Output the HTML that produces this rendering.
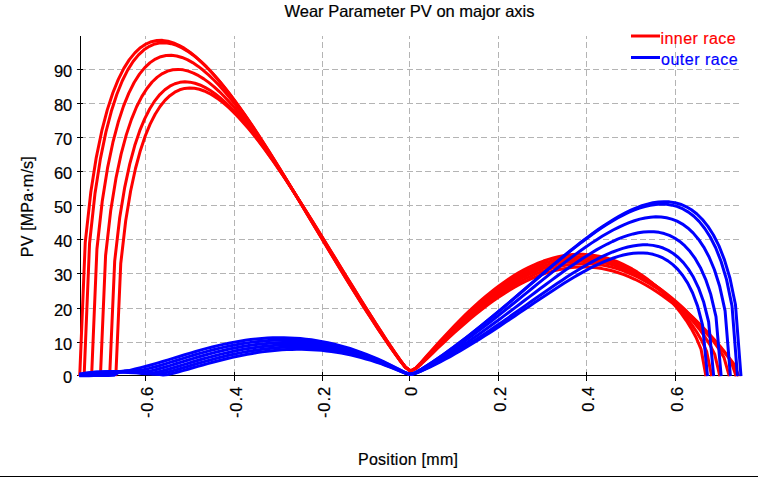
<!DOCTYPE html>
<html><head><meta charset="utf-8"><style>
html,body{margin:0;padding:0;background:#fff;}
body{width:758px;height:477px;overflow:hidden;position:relative;}
svg{position:absolute;left:0;top:0;display:block;}
text{font-family:"Liberation Sans",sans-serif;font-size:16px;fill:#000;stroke:#000;stroke-width:0.2px;}
</style></head><body>
<svg width="758" height="477" viewBox="0 0 758 477">
<rect x="0" y="0" width="758" height="477" fill="#fff"/>
<g stroke="#b4b4b4" stroke-width="1" stroke-dasharray="6 3.333" fill="none" shape-rendering="crispEdges">
<line x1="145.5" y1="375" x2="145.5" y2="36"/>
<line x1="234.5" y1="375" x2="234.5" y2="36"/>
<line x1="322.5" y1="375" x2="322.5" y2="36"/>
<line x1="409.5" y1="375" x2="409.5" y2="36"/>
<line x1="498.5" y1="375" x2="498.5" y2="36"/>
<line x1="586.5" y1="375" x2="586.5" y2="36"/>
<line x1="675.5" y1="375" x2="675.5" y2="36"/>
<line x1="80" y1="342.5" x2="742" y2="342.5"/>
<line x1="80" y1="308.5" x2="742" y2="308.5"/>
<line x1="80" y1="273.5" x2="742" y2="273.5"/>
<line x1="80" y1="239.5" x2="742" y2="239.5"/>
<line x1="80" y1="205.5" x2="742" y2="205.5"/>
<line x1="80" y1="171.5" x2="742" y2="171.5"/>
<line x1="80" y1="137.5" x2="742" y2="137.5"/>
<line x1="80" y1="103.5" x2="742" y2="103.5"/>
<line x1="80" y1="69.5" x2="742" y2="69.5"/>
</g>
<g stroke="#000" stroke-width="1" shape-rendering="crispEdges">
<line x1="80.5" y1="36" x2="80.5" y2="376"/>
<line x1="80" y1="375.5" x2="742" y2="375.5"/>
<line x1="145.5" y1="372" x2="145.5" y2="381"/>
<line x1="234.5" y1="372" x2="234.5" y2="381"/>
<line x1="322.5" y1="372" x2="322.5" y2="381"/>
<line x1="409.5" y1="372" x2="409.5" y2="381"/>
<line x1="498.5" y1="372" x2="498.5" y2="381"/>
<line x1="586.5" y1="372" x2="586.5" y2="381"/>
<line x1="675.5" y1="372" x2="675.5" y2="381"/>
<line x1="77" y1="375.5" x2="83" y2="375.5"/>
<line x1="77" y1="342.5" x2="83" y2="342.5"/>
<line x1="77" y1="308.5" x2="83" y2="308.5"/>
<line x1="77" y1="273.5" x2="83" y2="273.5"/>
<line x1="77" y1="239.5" x2="83" y2="239.5"/>
<line x1="77" y1="205.5" x2="83" y2="205.5"/>
<line x1="77" y1="171.5" x2="83" y2="171.5"/>
<line x1="77" y1="137.5" x2="83" y2="137.5"/>
<line x1="77" y1="103.5" x2="83" y2="103.5"/>
<line x1="77" y1="69.5" x2="83" y2="69.5"/>
</g>
<g fill="none" stroke="#ff0000" stroke-width="3" stroke-linejoin="round">
<path d="M79.72,376.14L85.23,242.63L90.75,192.55L96.26,157.58L101.77,130.93L107.29,109.88L112.80,92.98L118.32,79.34L123.83,68.37L129.34,59.65L134.86,52.84L140.37,47.71L145.89,44.05L151.40,41.69L156.92,40.50L162.43,40.36L167.94,41.16L173.46,42.82L178.97,45.25L184.49,48.40L190.00,52.20L195.52,56.58L201.03,61.51L206.54,66.93L212.06,72.80L217.57,79.08L223.09,85.73L228.60,92.73L234.12,100.03L239.63,107.62L245.14,115.45L250.66,123.51L256.17,131.78L261.69,140.22L267.20,148.81L272.71,157.55L278.23,166.39L283.74,175.34L289.26,184.37L294.77,193.46L300.29,202.59L305.80,211.76L311.31,220.95L316.83,230.13L322.34,239.31L327.86,248.47L333.37,257.59L338.89,266.66L344.40,275.67L349.91,284.61L355.43,293.48L360.94,302.25L366.46,310.92L371.97,319.47L377.48,327.90L383.00,336.19L388.51,344.32L394.03,352.26L399.54,359.92L405.06,366.97L410.57,371.03L416.04,368.51L421.51,363.77L426.98,358.58L432.45,353.30L437.92,348.03L443.39,342.83L448.86,337.71L454.33,332.69L459.80,327.78L465.27,323.00L470.74,318.36L476.21,313.87L481.68,309.53L487.15,305.36L492.62,301.37L498.09,297.55L503.56,293.93L509.03,290.50L514.50,287.29L519.97,284.28L525.44,281.49L530.91,278.93L536.38,276.61L541.85,274.52L547.32,272.68L552.79,271.08L558.26,269.74L563.73,268.66L569.20,267.84L574.67,267.29L580.15,267.00L585.62,266.99L591.09,267.25L596.56,267.79L602.03,268.60L607.50,269.69L612.97,271.06L618.44,272.71L623.91,274.63L629.38,276.82L634.85,279.28L640.32,282.01L645.79,285.00L651.26,288.25L656.73,291.75L662.20,295.49L667.67,299.46L673.14,303.67L678.61,308.09L684.08,312.71L689.55,317.53L695.02,322.54L700.49,327.71L705.96,333.05L711.43,338.55L716.90,344.22L722.37,350.09L727.84,356.27L733.31,363.16L738.78,376.14"/>
<path d="M84.12,376.14L89.56,243.23L95.00,193.41L100.44,158.64L105.89,132.17L111.33,111.27L116.77,94.51L122.21,81.01L127.65,70.16L133.09,61.55L138.53,54.86L143.97,49.83L149.41,46.26L154.85,43.99L160.29,42.88L165.73,42.81L171.18,43.68L176.62,45.40L182.06,47.90L187.50,51.10L192.94,54.94L198.38,59.36L203.82,64.32L209.26,69.77L214.70,75.66L220.14,81.96L225.58,88.63L231.02,95.63L236.46,102.93L241.91,110.51L247.35,118.33L252.79,126.37L258.23,134.61L263.67,143.02L269.11,151.59L274.55,160.28L279.99,169.08L285.43,177.98L290.87,186.94L296.31,195.97L301.75,205.04L307.19,214.13L312.64,223.24L318.08,232.34L323.52,241.43L328.96,250.49L334.40,259.51L339.84,268.47L345.28,277.37L350.72,286.20L356.16,294.94L361.60,303.58L367.04,312.12L372.48,320.54L377.93,328.83L383.37,336.97L388.81,344.95L394.25,352.73L399.69,360.23L405.13,367.10L410.57,371.03L416.00,368.39L421.42,363.49L426.85,358.15L432.27,352.73L437.70,347.33L443.13,342.00L448.55,336.76L453.98,331.63L459.40,326.62L464.83,321.74L470.26,316.99L475.68,312.40L481.11,307.97L486.54,303.71L491.96,299.62L497.39,295.72L502.81,292.01L508.24,288.50L513.67,285.19L519.09,282.10L524.52,279.22L529.94,276.57L535.37,274.16L540.80,271.98L546.22,270.04L551.65,268.35L557.07,266.91L562.50,265.72L567.93,264.80L573.35,264.14L578.78,263.75L584.21,263.62L589.63,263.77L595.06,264.19L600.48,264.89L605.91,265.86L611.34,267.10L616.76,268.63L622.19,270.43L627.61,272.50L633.04,274.84L638.47,277.45L643.89,280.33L649.32,283.47L654.74,286.87L660.17,290.52L665.60,294.42L671.02,298.56L676.45,302.93L681.88,307.54L687.30,312.36L692.73,317.40L698.15,322.66L703.58,328.13L709.01,333.82L714.43,339.77L719.86,346.04L725.28,352.80L730.71,360.57L736.14,376.14"/>
<path d="M91.61,376.14L96.93,248.99L102.24,201.25L107.56,167.90L112.88,142.45L118.19,122.33L123.51,106.15L128.82,93.08L134.14,82.55L139.46,74.16L144.77,67.59L150.09,62.62L155.40,59.04L160.72,56.71L166.04,55.48L171.35,55.26L176.67,55.94L181.98,57.44L187.30,59.68L192.62,62.61L197.93,66.15L203.25,70.26L208.56,74.88L213.88,79.98L219.20,85.52L224.51,91.45L229.83,97.74L235.14,104.36L240.46,111.28L245.77,118.47L251.09,125.90L256.41,133.56L261.72,141.41L267.04,149.44L272.35,157.62L277.67,165.94L282.99,174.38L288.30,182.91L293.62,191.53L298.93,200.21L304.25,208.94L309.57,217.71L314.88,226.50L320.20,235.30L325.51,244.10L330.83,252.88L336.15,261.63L341.46,270.34L346.78,279.01L352.09,287.61L357.41,296.14L362.73,304.60L368.04,312.96L373.36,321.21L378.67,329.36L383.99,337.37L389.31,345.24L394.62,352.92L399.94,360.33L405.25,367.14L410.57,371.03L415.88,368.34L421.19,363.36L426.50,357.95L431.82,352.46L437.13,347.01L442.44,341.62L447.75,336.33L453.06,331.15L458.37,326.09L463.69,321.16L469.00,316.37L474.31,311.73L479.62,307.24L484.93,302.93L490.24,298.78L495.56,294.82L500.87,291.05L506.18,287.47L511.49,284.09L516.80,280.92L522.11,277.96L527.42,275.22L532.74,272.71L538.05,270.43L543.36,268.38L548.67,266.57L553.98,265.01L559.29,263.69L564.61,262.63L569.92,261.82L575.23,261.27L580.54,260.99L585.85,260.96L591.16,261.21L596.47,261.72L601.79,262.50L607.10,263.56L612.41,264.88L617.72,266.48L623.03,268.34L628.34,270.48L633.66,272.89L638.97,275.57L644.28,278.51L649.59,281.72L654.90,285.19L660.21,288.92L665.53,292.91L670.84,297.16L676.15,301.66L681.46,306.42L686.77,311.44L692.08,316.72L697.39,322.28L702.71,328.15L708.02,334.39L713.33,341.10L718.64,348.52L723.95,357.37L729.26,376.14"/>
<path d="M100.42,376.14L105.59,255.52L110.76,210.15L115.93,178.39L121.10,154.11L126.27,134.87L131.44,119.35L136.61,106.77L141.78,96.60L146.94,88.45L152.11,82.03L157.28,77.12L162.45,73.53L167.62,71.13L172.79,69.78L177.96,69.38L183.13,69.84L188.30,71.09L193.47,73.05L198.64,75.66L203.81,78.86L208.97,82.61L214.14,86.86L219.31,91.56L224.48,96.69L229.65,102.20L234.82,108.07L239.99,114.26L245.16,120.74L250.33,127.49L255.50,134.49L260.67,141.70L265.83,149.12L271.00,156.71L276.17,164.47L281.34,172.36L286.51,180.38L291.68,188.50L296.85,196.71L302.02,205.01L307.19,213.36L312.36,221.76L317.53,230.19L322.69,238.65L327.86,247.12L333.03,255.58L338.20,264.04L343.37,272.46L348.54,280.86L353.71,289.21L358.88,297.51L364.05,305.74L369.22,313.90L374.39,321.97L379.56,329.95L384.72,337.82L389.89,345.55L395.06,353.13L400.23,360.45L405.40,367.18L410.57,371.03L415.72,368.32L420.88,363.33L426.03,357.90L431.19,352.41L436.34,346.95L441.50,341.55L446.65,336.26L451.81,331.07L456.96,325.99L462.11,321.05L467.27,316.25L472.42,311.59L477.58,307.09L482.73,302.75L487.89,298.58L493.04,294.58L498.20,290.77L503.35,287.14L508.50,283.71L513.66,280.47L518.81,277.44L523.97,274.62L529.12,272.02L534.28,269.64L539.43,267.48L544.59,265.56L549.74,263.86L554.89,262.41L560.05,261.20L565.20,260.23L570.36,259.52L575.51,259.05L580.67,258.84L585.82,258.89L590.98,259.20L596.13,259.77L601.28,260.60L606.44,261.70L611.59,263.06L616.75,264.69L621.90,266.59L627.06,268.76L632.21,271.20L637.37,273.91L642.52,276.89L647.67,280.15L652.83,283.67L657.98,287.47L663.14,291.55L668.29,295.92L673.45,300.57L678.60,305.53L683.76,310.80L688.91,316.43L694.06,322.45L699.22,328.95L704.37,336.08L709.53,344.16L714.68,354.10L719.84,376.14"/>
<path d="M109.67,376.14L114.69,261.06L119.70,217.71L124.72,187.33L129.73,164.07L134.75,145.60L139.76,130.68L144.78,118.56L149.79,108.73L154.81,100.82L159.82,94.56L164.84,89.74L169.85,86.18L174.87,83.76L179.88,82.34L184.90,81.83L189.91,82.15L194.93,83.22L199.94,84.97L204.96,87.34L209.97,90.29L214.99,93.76L220.00,97.72L225.02,102.12L230.03,106.93L235.05,112.11L240.06,117.63L245.08,123.47L250.09,129.60L255.11,135.99L260.12,142.63L265.14,149.48L270.15,156.53L275.17,163.76L280.18,171.15L285.20,178.68L290.21,186.34L295.23,194.11L300.24,201.98L305.26,209.93L310.27,217.94L315.29,226.02L320.30,234.13L325.32,242.27L330.33,250.44L335.35,258.61L340.36,266.77L345.38,274.93L350.39,283.06L355.41,291.16L360.42,299.21L365.44,307.22L370.45,315.16L375.47,323.03L380.48,330.81L385.50,338.50L390.51,346.07L395.53,353.49L400.54,360.67L405.56,367.27L410.57,371.03L415.59,368.30L420.61,363.27L425.62,357.82L430.64,352.31L435.66,346.82L440.68,341.41L445.70,336.09L450.71,330.88L455.73,325.79L460.75,320.83L465.77,316.01L470.78,311.33L475.80,306.80L480.82,302.43L485.84,298.23L490.86,294.19L495.87,290.34L500.89,286.66L505.91,283.18L510.93,279.88L515.95,276.79L520.96,273.90L525.98,271.22L531.00,268.75L536.02,266.50L541.03,264.48L546.05,262.68L551.07,261.11L556.09,259.77L561.11,258.67L566.12,257.82L571.14,257.21L576.16,256.84L581.18,256.73L586.20,256.87L591.21,257.26L596.23,257.92L601.25,258.83L606.27,260.01L611.28,261.45L616.30,263.15L621.32,265.13L626.34,267.38L631.36,269.90L636.37,272.70L641.39,275.78L646.41,279.15L651.43,282.80L656.45,286.75L661.46,291.01L666.48,295.58L671.50,300.50L676.52,305.78L681.53,311.46L686.55,317.62L691.57,324.35L696.59,331.85L701.61,340.49L706.62,351.35L711.64,376.14"/>
<path d="M115.84,376.14L120.75,263.47L125.67,221.03L130.58,191.28L135.49,168.50L140.40,150.41L145.31,135.80L150.23,123.93L155.14,114.29L160.05,106.54L164.96,100.41L169.88,95.68L174.79,92.19L179.70,89.81L184.61,88.41L189.52,87.91L194.44,88.21L199.35,89.25L204.26,90.96L209.17,93.28L214.08,96.16L219.00,99.55L223.91,103.42L228.82,107.72L233.73,112.42L238.65,117.49L243.56,122.90L248.47,128.61L253.38,134.61L258.29,140.86L263.21,147.36L268.12,154.06L273.03,160.96L277.94,168.04L282.85,175.28L287.77,182.65L292.68,190.15L297.59,197.76L302.50,205.46L307.42,213.25L312.33,221.10L317.24,229.00L322.15,236.95L327.06,244.93L331.98,252.92L336.89,260.93L341.80,268.93L346.71,276.92L351.62,284.88L356.54,292.82L361.45,300.71L366.36,308.56L371.27,316.34L376.19,324.05L381.10,331.68L386.01,339.22L390.92,346.64L395.83,353.91L400.75,360.94L405.66,367.39L410.57,371.03L415.49,368.24L420.42,363.14L425.34,357.62L430.26,352.05L435.19,346.50L440.11,341.04L445.03,335.67L449.96,330.41L454.88,325.27L459.80,320.26L464.72,315.38L469.65,310.66L474.57,306.08L479.49,301.66L484.42,297.41L489.34,293.32L494.26,289.41L499.19,285.68L504.11,282.13L509.03,278.78L513.96,275.62L518.88,272.66L523.80,269.91L528.73,267.37L533.65,265.04L538.57,262.93L543.49,261.04L548.42,259.38L553.34,257.94L558.26,256.74L563.19,255.78L568.11,255.06L573.03,254.58L577.96,254.35L582.88,254.36L587.80,254.63L592.73,255.16L597.65,255.94L602.57,256.99L607.50,258.29L612.42,259.87L617.34,261.71L622.27,263.83L627.19,266.23L632.11,268.91L637.03,271.88L641.96,275.14L646.88,278.70L651.80,282.57L656.73,286.78L661.65,291.32L666.57,296.23L671.50,301.55L676.42,307.31L681.34,313.61L686.27,320.55L691.19,328.37L696.11,337.49L701.04,349.11L705.96,376.14"/>
</g>
<g fill="none" stroke="#0000ff" stroke-width="3" stroke-linejoin="round">
<path d="M79.28,373.96L80.16,373.96L85.66,373.07L91.17,372.48L96.68,372.12L102.18,371.95L107.69,371.90L113.20,371.86L118.71,371.71L124.21,371.25L129.72,370.37L135.23,369.04L140.73,367.61L146.24,366.23L151.75,364.75L157.25,363.18L162.76,361.56L168.27,359.89L173.77,358.19L179.28,356.48L184.79,354.78L190.29,353.11L195.80,351.48L201.31,349.90L206.82,348.39L212.32,346.96L217.83,345.61L223.34,344.36L228.84,343.20L234.35,342.14L239.86,341.18L245.36,340.34L250.87,339.61L256.38,338.99L261.88,338.49L267.39,338.12L272.90,337.87L278.40,337.75L283.91,337.76L289.42,337.90L294.93,338.17L300.43,338.59L305.94,339.13L311.45,339.82L316.95,340.64L322.46,341.61L327.97,342.71L333.47,343.96L338.98,345.35L344.49,346.88L349.99,348.55L355.50,350.36L361.01,352.31L366.51,354.40L372.02,356.62L377.53,358.99L383.04,361.48L388.54,364.11L394.05,366.85L399.56,369.69L405.06,372.54L410.57,374.44L416.08,372.38L421.58,369.13L427.09,365.64L432.60,362.01L438.10,358.27L443.61,354.42L449.12,350.47L454.62,346.43L460.13,342.30L465.64,338.09L471.15,333.80L476.65,329.44L482.16,325.01L487.67,320.52L493.17,315.98L498.68,311.39L504.19,306.76L509.69,302.09L515.20,297.39L520.71,292.67L526.21,287.94L531.72,283.21L537.23,278.48L542.74,273.76L548.24,269.07L553.75,264.41L559.26,259.80L564.76,255.24L570.27,250.75L575.78,246.34L581.28,242.02L586.79,237.82L592.30,233.74L597.80,229.79L603.31,226.01L608.82,222.41L614.32,219.00L619.83,215.81L625.34,212.87L630.85,210.20L636.35,207.82L641.86,205.78L647.37,204.10L652.87,202.82L658.38,201.99L663.89,201.66L669.39,201.87L674.90,202.71L680.41,204.24L685.91,206.55L691.42,209.76L696.93,214.00L702.43,219.45L707.94,226.35L713.45,235.00L718.96,245.90L724.46,259.83L729.97,278.25L735.48,304.82L740.98,376.14"/>
<path d="M79.28,374.37L83.68,374.20L89.13,373.05L94.58,372.34L100.03,371.94L105.47,371.77L110.92,371.81L116.37,371.97L121.82,372.13L127.27,372.10L132.72,371.66L138.16,370.72L143.61,369.67L149.06,368.40L154.51,366.98L159.96,365.45L165.40,363.84L170.85,362.18L176.30,360.50L181.75,358.82L187.20,357.14L192.64,355.50L198.09,353.89L203.54,352.34L208.99,350.86L214.44,349.45L219.89,348.13L225.33,346.89L230.78,345.74L236.23,344.68L241.68,343.73L247.13,342.88L252.57,342.13L258.02,341.50L263.47,340.98L268.92,340.58L274.37,340.30L279.81,340.14L285.26,340.11L290.71,340.21L296.16,340.43L301.61,340.78L307.06,341.27L312.50,341.89L317.95,342.64L323.40,343.52L328.85,344.55L334.30,345.70L339.74,347.00L345.19,348.43L350.64,350.00L356.09,351.70L361.54,353.54L366.98,355.51L372.43,357.61L377.88,359.85L383.33,362.21L388.78,364.70L394.23,367.30L399.67,369.99L405.12,372.67L410.57,374.44L416.02,372.41L421.47,369.21L426.91,365.76L432.36,362.18L437.81,358.48L443.26,354.68L448.71,350.78L454.16,346.79L459.60,342.71L465.05,338.56L470.50,334.33L475.95,330.02L481.40,325.66L486.84,321.23L492.29,316.75L497.74,312.22L503.19,307.65L508.64,303.04L514.08,298.41L519.53,293.76L524.98,289.10L530.43,284.43L535.88,279.77L541.33,275.12L546.77,270.49L552.22,265.90L557.67,261.35L563.12,256.86L568.57,252.43L574.01,248.09L579.46,243.84L584.91,239.69L590.36,235.67L595.81,231.79L601.25,228.06L606.70,224.51L612.15,221.16L617.60,218.02L623.05,215.12L628.50,212.49L633.94,210.16L639.39,208.14L644.84,206.49L650.29,205.24L655.74,204.43L661.18,204.10L666.63,204.32L672.08,205.15L677.53,206.66L682.98,208.95L688.42,212.12L693.87,216.30L699.32,221.68L704.77,228.48L710.22,237.01L715.67,247.76L721.11,261.49L726.56,279.65L732.01,305.84L737.46,376.14"/>
<path d="M79.28,374.78L80.07,374.78L85.40,374.59L90.73,374.40L96.06,372.94L101.39,372.16L106.72,371.74L112.05,371.61L117.38,371.73L122.71,372.02L128.05,372.40L133.38,372.67L138.71,372.57L144.04,372.09L149.37,371.16L154.70,369.93L160.03,368.52L165.36,366.99L170.69,365.40L176.02,363.78L181.35,362.14L186.68,360.50L192.01,358.89L197.34,357.31L202.67,355.78L208.01,354.30L213.34,352.89L218.67,351.54L224.00,350.27L229.33,349.08L234.66,347.98L239.99,346.97L245.32,346.05L250.65,345.23L255.98,344.51L261.31,343.89L266.64,343.39L271.97,342.99L277.30,342.71L282.63,342.54L287.96,342.49L293.30,342.56L298.63,342.76L303.96,343.07L309.29,343.51L314.62,344.08L319.95,344.77L325.28,345.59L330.61,346.54L335.94,347.62L341.27,348.82L346.60,350.15L351.93,351.62L357.26,353.21L362.59,354.93L367.92,356.77L373.26,358.74L378.59,360.83L383.92,363.05L389.25,365.38L394.58,367.82L399.91,370.33L405.24,372.83L410.57,374.44L415.90,372.68L421.23,369.79L426.56,366.66L431.89,363.40L437.22,360.02L442.55,356.55L447.88,352.98L453.22,349.32L458.55,345.59L463.88,341.77L469.21,337.88L474.54,333.92L479.87,329.90L485.20,325.82L490.53,321.69L495.86,317.51L501.19,313.29L506.52,309.04L511.85,304.76L517.18,300.46L522.51,296.14L527.84,291.82L533.18,287.50L538.51,283.18L543.84,278.89L549.17,274.63L554.50,270.41L559.83,266.23L565.16,262.12L570.49,258.07L575.82,254.11L581.15,250.25L586.48,246.50L591.81,242.88L597.14,239.40L602.47,236.08L607.80,232.94L613.13,230.01L618.47,227.29L623.80,224.82L629.13,222.62L634.46,220.72L639.79,219.15L645.12,217.95L650.45,217.16L655.78,216.83L661.11,216.99L666.44,217.73L671.77,219.09L677.10,221.18L682.43,224.08L687.76,227.93L693.09,232.89L698.43,239.17L703.76,247.06L709.09,257.01L714.42,269.73L719.75,286.57L725.08,310.87L730.41,376.14"/>
<path d="M79.28,375.19L79.28,375.19L84.45,375.08L89.63,374.95L94.81,374.82L99.98,374.69L105.16,372.88L110.34,372.04L115.51,371.64L120.69,371.58L125.86,371.79L131.04,372.22L136.22,372.78L141.39,373.41L146.57,373.66L151.75,373.22L156.92,372.22L162.10,370.93L167.28,369.50L172.45,367.99L177.63,366.45L182.81,364.88L187.98,363.32L193.16,361.77L198.34,360.25L203.51,358.76L208.69,357.33L213.86,355.94L219.04,354.62L224.22,353.36L229.39,352.17L234.57,351.05L239.75,350.02L244.92,349.07L250.10,348.21L255.28,347.44L260.45,346.76L265.63,346.18L270.81,345.70L275.98,345.33L281.16,345.06L286.33,344.90L291.51,344.85L296.69,344.91L301.86,345.09L307.04,345.38L312.22,345.78L317.39,346.31L322.57,346.95L327.75,347.71L332.92,348.59L338.10,349.59L343.28,350.71L348.45,351.95L353.63,353.31L358.81,354.79L363.98,356.39L369.16,358.10L374.33,359.93L379.51,361.88L384.69,363.94L389.86,366.10L395.04,368.37L400.22,370.70L405.39,373.00L410.57,374.44L415.75,372.98L420.92,370.49L426.10,367.74L431.28,364.87L436.45,361.88L441.63,358.79L446.81,355.62L451.98,352.36L457.16,349.02L462.33,345.61L467.51,342.13L472.69,338.58L477.86,334.97L483.04,331.30L488.22,327.58L493.39,323.81L498.57,320.01L503.75,316.16L508.92,312.29L514.10,308.40L519.28,304.48L524.45,300.56L529.63,296.64L534.81,292.72L539.98,288.82L545.16,284.93L550.33,281.08L555.51,277.28L560.69,273.52L565.86,269.82L571.04,266.20L576.22,262.66L581.39,259.22L586.57,255.90L591.75,252.70L596.92,249.65L602.10,246.75L607.28,244.04L612.45,241.52L617.63,239.23L622.80,237.18L627.98,235.40L633.16,233.93L638.33,232.78L643.51,232.01L648.69,231.65L653.86,231.75L659.04,232.36L664.22,233.55L669.39,235.40L674.57,237.99L679.75,241.44L684.92,245.90L690.10,251.57L695.28,258.71L700.45,267.73L705.63,279.28L710.80,294.58L715.98,316.69L721.16,376.14"/>
<path d="M79.28,375.46L82.21,375.42L87.27,375.33L92.32,375.24L97.37,375.15L102.42,375.06L107.47,374.97L112.52,372.70L117.57,371.74L122.63,371.29L127.68,371.22L132.73,371.44L137.78,371.94L142.83,372.81L147.88,373.70L152.94,374.34L157.99,374.20L163.04,373.29L168.09,372.04L173.14,370.65L178.19,369.20L183.25,367.72L188.30,366.23L193.35,364.75L198.40,363.28L203.45,361.84L208.50,360.44L213.56,359.08L218.61,357.76L223.66,356.51L228.71,355.31L233.76,354.18L238.81,353.12L243.87,352.13L248.92,351.22L253.97,350.40L259.02,349.66L264.07,349.01L269.12,348.45L274.18,347.98L279.23,347.61L284.28,347.35L289.33,347.18L294.38,347.11L299.43,347.16L304.49,347.30L309.54,347.56L314.59,347.92L319.64,348.40L324.69,348.99L329.74,349.68L334.80,350.49L339.85,351.42L344.90,352.45L349.95,353.60L355.00,354.86L360.05,356.23L365.11,357.72L370.16,359.31L375.21,361.02L380.26,362.83L385.31,364.74L390.36,366.76L395.42,368.86L400.47,371.03L405.52,373.15L410.57,374.44L415.62,373.24L420.67,371.08L425.72,368.68L430.78,366.13L435.83,363.48L440.88,360.73L445.93,357.90L450.98,354.99L456.03,352.00L461.09,348.94L466.14,345.81L471.19,342.62L476.24,339.37L481.29,336.07L486.34,332.71L491.40,329.31L496.45,325.86L501.50,322.38L506.55,318.87L511.60,315.34L516.65,311.79L521.71,308.22L526.76,304.65L531.81,301.08L536.86,297.53L541.91,293.98L546.96,290.47L552.02,286.99L557.07,283.55L562.12,280.16L567.17,276.84L572.22,273.60L577.27,270.44L582.33,267.39L587.38,264.44L592.43,261.63L597.48,258.96L602.53,256.45L607.58,254.12L612.64,251.99L617.69,250.08L622.74,248.42L627.79,247.03L632.84,245.95L637.89,245.20L642.95,244.82L648.00,244.87L653.05,245.38L658.10,246.42L663.15,248.05L668.20,250.37L673.26,253.47L678.31,257.50L683.36,262.63L688.41,269.10L693.46,277.29L698.51,287.80L703.57,301.73L708.62,321.89L713.67,376.14"/>
<path d="M79.28,375.73L83.95,375.69L88.90,375.64L93.84,375.58L98.79,375.53L103.74,375.48L108.69,375.43L113.64,375.37L118.59,372.42L123.54,371.30L128.49,370.75L133.43,370.60L138.38,370.83L143.33,371.53L148.28,372.40L153.23,373.37L158.18,374.34L163.13,374.94L168.08,374.43L173.03,373.29L177.97,371.97L182.92,370.60L187.87,369.19L192.82,367.77L197.77,366.36L202.72,364.97L207.67,363.60L212.62,362.26L217.57,360.96L222.51,359.70L227.46,358.50L232.41,357.35L237.36,356.26L242.31,355.24L247.26,354.28L252.21,353.40L257.16,352.60L262.10,351.88L267.05,351.24L272.00,350.68L276.95,350.22L281.90,349.85L286.85,349.57L291.80,349.38L296.75,349.30L301.70,349.31L306.64,349.42L311.59,349.64L316.54,349.96L321.49,350.38L326.44,350.91L331.39,351.54L336.34,352.28L341.29,353.13L346.24,354.08L351.18,355.14L356.13,356.30L361.08,357.57L366.03,358.95L370.98,360.43L375.93,362.01L380.88,363.69L385.83,365.48L390.77,367.35L395.72,369.31L400.67,371.32L405.62,373.28L410.57,374.44L415.52,373.38L420.47,371.44L425.42,369.23L430.37,366.89L435.31,364.44L440.26,361.90L445.21,359.28L450.16,356.58L455.11,353.80L460.06,350.96L465.01,348.05L469.96,345.07L474.90,342.04L479.85,338.96L484.80,335.82L489.75,332.64L494.70,329.42L499.65,326.16L504.60,322.87L509.55,319.56L514.50,316.23L519.44,312.88L524.39,309.53L529.34,306.18L534.29,302.83L539.24,299.50L544.19,296.19L549.14,292.91L554.09,289.67L559.04,286.48L563.98,283.35L568.93,280.28L573.88,277.30L578.83,274.41L583.78,271.62L588.73,268.96L593.68,266.42L598.63,264.04L603.57,261.83L608.52,259.80L613.47,257.98L618.42,256.39L623.37,255.06L628.32,254.01L633.27,253.28L638.22,252.90L643.17,252.91L648.11,253.36L653.06,254.31L658.01,255.82L662.96,257.97L667.91,260.86L672.86,264.63L677.81,269.42L682.76,275.49L687.71,283.18L692.65,293.04L697.60,306.13L702.55,325.09L707.50,376.14"/>
</g>
<text x="409.5" y="17" text-anchor="middle" style="font-size:16.5px">Wear Parameter PV on major axis</text>
<text x="72.3" y="383.3" text-anchor="end" style="font-size:16.5px">0</text>
<text x="72.3" y="350.3" text-anchor="end" style="font-size:16.5px">10</text>
<text x="72.3" y="316.3" text-anchor="end" style="font-size:16.5px">20</text>
<text x="72.3" y="281.3" text-anchor="end" style="font-size:16.5px">30</text>
<text x="72.3" y="247.3" text-anchor="end" style="font-size:16.5px">40</text>
<text x="72.3" y="213.3" text-anchor="end" style="font-size:16.5px">50</text>
<text x="72.3" y="179.3" text-anchor="end" style="font-size:16.5px">60</text>
<text x="72.3" y="145.3" text-anchor="end" style="font-size:16.5px">70</text>
<text x="72.3" y="111.3" text-anchor="end" style="font-size:16.5px">80</text>
<text x="72.3" y="77.3" text-anchor="end" style="font-size:16.5px">90</text>
<text transform="translate(152.5,386) rotate(-90)" text-anchor="end" letter-spacing="0.9" style="font-size:16.5px">-0.6</text>
<text transform="translate(241.5,386) rotate(-90)" text-anchor="end" letter-spacing="0.9" style="font-size:16.5px">-0.4</text>
<text transform="translate(329.5,386) rotate(-90)" text-anchor="end" letter-spacing="0.9" style="font-size:16.5px">-0.2</text>
<text transform="translate(416.5,386) rotate(-90)" text-anchor="end" letter-spacing="0.9" style="font-size:16.5px">0</text>
<text transform="translate(505.5,386) rotate(-90)" text-anchor="end" letter-spacing="0.9" style="font-size:16.5px">0.2</text>
<text transform="translate(593.5,386) rotate(-90)" text-anchor="end" letter-spacing="0.9" style="font-size:16.5px">0.4</text>
<text transform="translate(682.5,386) rotate(-90)" text-anchor="end" letter-spacing="0.9" style="font-size:16.5px">0.6</text>
<text transform="translate(33,257.2) rotate(-90)" letter-spacing="0.2">PV [MPa·m/s]</text>
<text x="358" y="465" letter-spacing="0.25">Position [mm]</text>
<line x1="631" y1="36" x2="660" y2="36" stroke="#ff0000" stroke-width="3"/>
<line x1="631" y1="57.5" x2="660" y2="57.5" stroke="#0000ff" stroke-width="3"/>
<text x="660.5" y="43.8" letter-spacing="0.45" style="fill:#ff0000;stroke:#ff0000">inner race</text>
<text x="661" y="65" letter-spacing="0.5" style="fill:#0000ff;stroke:#0000ff">outer race</text>
<rect x="0" y="476" width="758" height="1" fill="#000"/>
</svg>
</body></html>
